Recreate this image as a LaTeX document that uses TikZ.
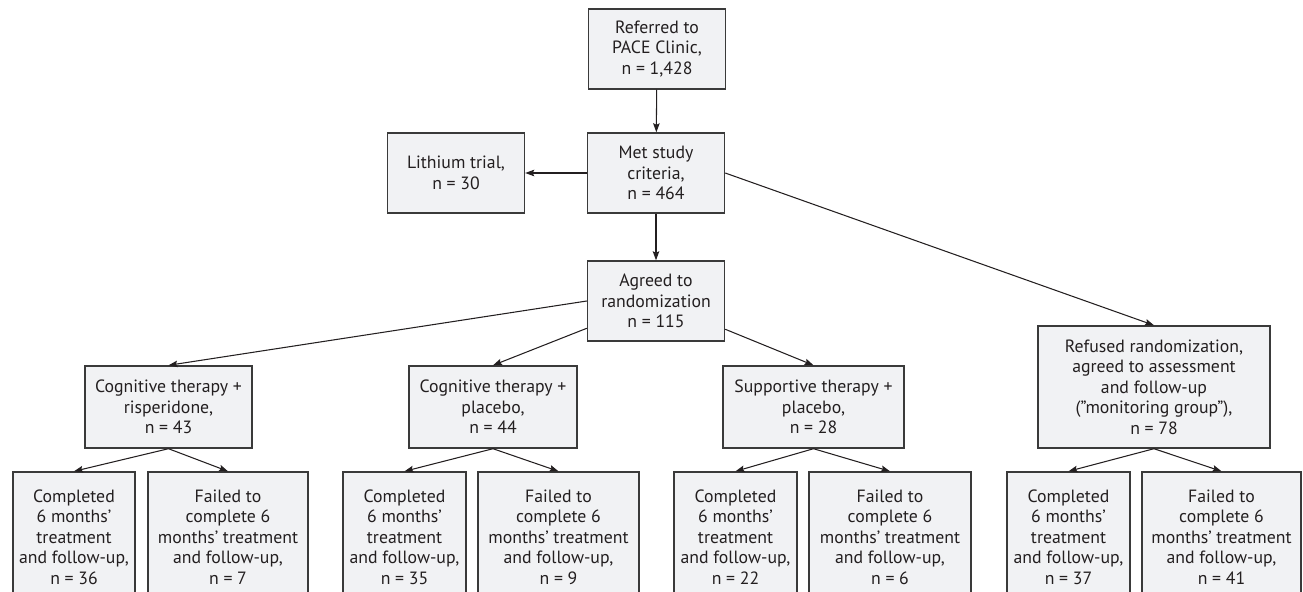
\documentclass[tikz,border=0pt]{standalone}
\usepackage{fontspec}
\setmainfont{PT Sans}
\definecolor{boxfill}{HTML}{F1F2F4}
\definecolor{boxline}{HTML}{3A3A3A}
\definecolor{txt}{HTML}{231F20}
\usetikzlibrary{arrows.meta}

\begin{document}
\begin{tikzpicture}[
  s/.style={draw=boxline,line width=0.8pt,fill=boxfill,text=txt,align=center,inner sep=1pt,
    font=\fontsize{10.1}{11.7}\selectfont},
  top/.style={s,minimum width=2.74cm,minimum height=1.6cm},
  arm/.style={s,minimum height=1.64cm},
  leaf/.style={s,minimum height=2.6cm},
  arr/.style={-{Stealth[length=1.8mm,width=1.3mm,inset=0.3mm]},line width=0.6pt,txt}]
  \useasboundingbox (0,0) rectangle (26.06,-11.84);
  \node[top] (ref) at (13.14,-0.98) {Referred to\\PACE Clinic,\\n = 1,428};
  \node[top] (met) at (13.12,-3.46) {Met study\\criteria,\\n = 464};
  \node[top] (lith) at (9.12,-3.46) {Lithium trial,\\n = 30};
  \node[top] (agr) at (13.12,-6.02) {Agreed to\\randomization\\n = 115};
  \node[arm,minimum width=3.34cm] (risp) at (3.37,-8.14) {Cognitive therapy +\\risperidone,\\n = 43};
  \node[arm,minimum width=3.36cm] (cpl) at (9.86,-8.14) {Cognitive therapy +\\placebo,\\n = 44};
  \node[arm,minimum width=3.62cm] (spl) at (16.27,-8.14) {Supportive therapy +\\placebo,\\n = 28};
  \node[s,minimum width=4.64cm,minimum height=2.44cm] (mon) at (23.08,-7.74)
    {Refused randomization,\\agreed to assessment\\and follow-up\\(”monitoring group”),\\n = 78};
  % bottom row
  \node[leaf,minimum width=2.44cm] (c1) at (1.48,-10.74) {Completed\\6 months’\\treatment\\and follow-up,\\n = 36};
  \node[leaf,minimum width=3.2cm] (f1) at (4.56,-10.74) {Failed to\\complete 6\\months’ treatment\\and follow-up,\\n = 7};
  \node[leaf,minimum width=2.46cm] (c2) at (8.09,-10.74) {Completed\\6 months’\\treatment\\and follow-up,\\n = 35};
  \node[leaf,minimum width=3.22cm] (f2) at (11.17,-10.74) {Failed to\\complete 6\\months’ treatment\\and follow-up,\\n = 9};
  \node[leaf,minimum width=2.46cm] (c3) at (14.71,-10.74) {Completed\\6 months’\\treatment\\and follow-up,\\n = 22};
  \node[leaf,minimum width=3.24cm] (f3) at (17.8,-10.74) {Failed to\\complete 6\\months’ treatment\\and follow-up,\\n = 6};
  \node[leaf,minimum width=2.46cm] (c4) at (21.37,-10.74) {Completed\\6 months’\\treatment\\and follow-up,\\n = 37};
  \node[leaf,minimum width=3.18cm] (f4) at (24.43,-10.74) {Failed to\\complete 6\\months’ treatment\\and follow-up,\\n = 41};
  % connectors
  \draw[arr] (ref) -- (met);
  \draw[arr] (met) -- (lith);
  \draw[arr] (met) -- (agr);
  \draw[arr] (met.east) -- (mon.north);
  \draw[arr] (agr.west) -- (risp.north);
  \draw[arr] (agr) -- (cpl.north);
  \draw[arr] (agr) -- (spl.north);
  \foreach \p/\a/\b in {risp/c1/f1,cpl/c2/f2,spl/c3/f3,mon/c4/f4} {
    \draw[arr] (\p.south) -- (\a.north);
    \draw[arr] (\p.south) -- (\b.north);
  }
\end{tikzpicture}
\end{document}
